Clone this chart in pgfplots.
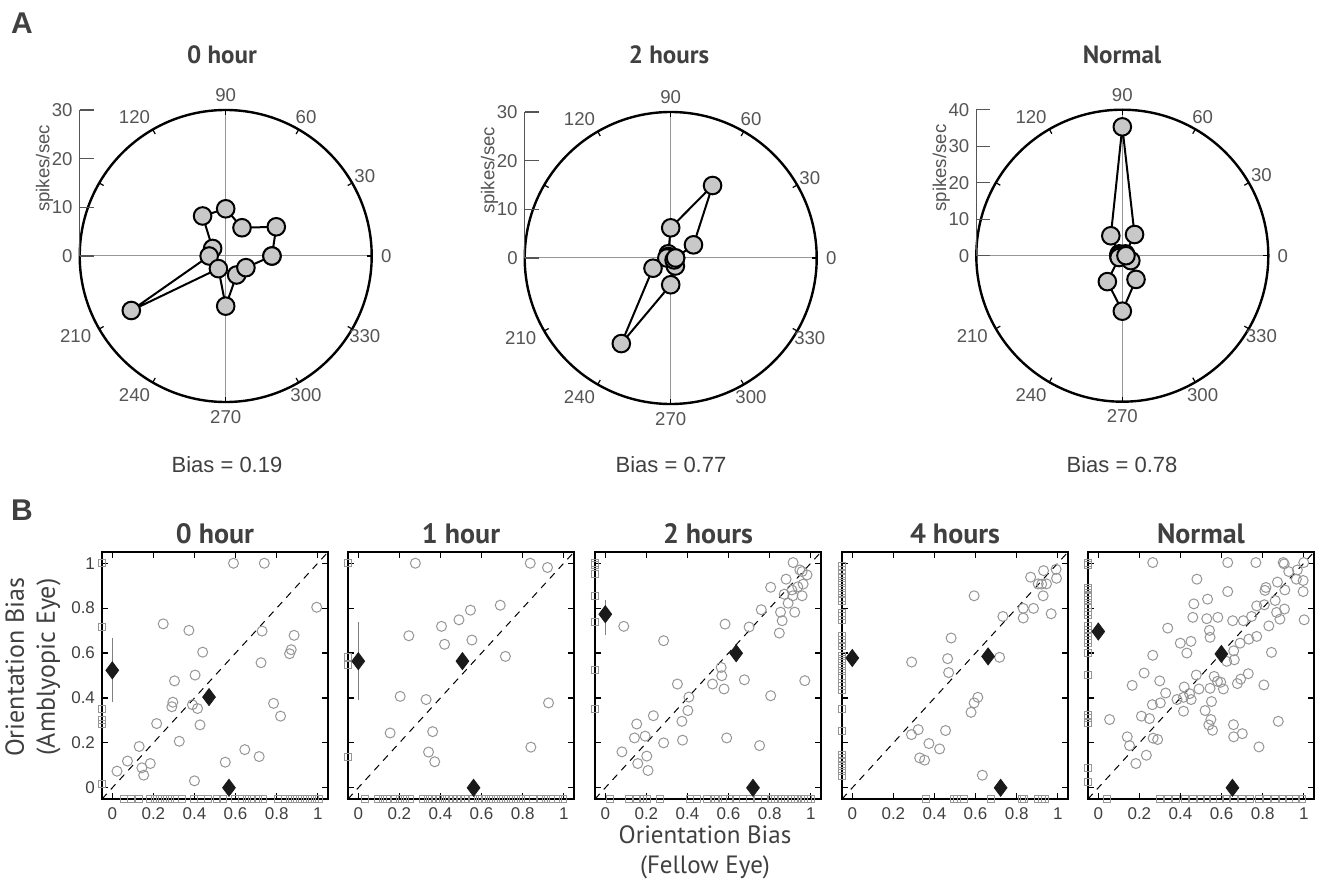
\documentclass[border=0pt]{standalone}
\usepackage{pgfplots}
\pgfplotsset{compat=1.18}
\usepackage{fontspec}
\setmainfont{Liberation Sans}
\newfontfamily\myriad{PT Sans}
\definecolor{textgray}{RGB}{64,64,64}
\definecolor{labgray}{RGB}{85,85,85}
\definecolor{ptgray}{RGB}{150,150,150}
\definecolor{fillgray}{RGB}{200,200,200}
\definecolor{crossgray}{RGB}{150,150,150}
\definecolor{diacol}{RGB}{26,26,26}
\newcommand{\tickfont}{\fontsize{8.5}{10}\selectfont}
\newcommand{\plabfont}{\fontsize{9.3}{11}\selectfont}
\pgfplotsset{
 polarpanel/.style={anchor=center, width=146pt, height=146pt, scale only axis, hide axis, clip=false},
 polarline/.style={black, line width=1pt, mark=*, mark size=4.4pt, mark options={fill=fillgray, draw=black, line width=1pt}},
 bpanel/.style={anchor=south west, width=113pt, height=123.5pt, scale only axis,
   xmin=-0.05, xmax=1.05, ymin=-0.05, ymax=1.05,
   xtick={0,0.2,0.4,0.6,0.8,1}, ytick={0,0.2,0.4,0.6,0.8,1},
   tick align=inside, major tick length=3pt,
   axis line style={line width=0.8pt, black},
   every tick/.style={line width=0.6pt, black},
   clip=false, /pgf/number format/assume math mode=true,
   tick label style={font=\tickfont, text=textgray},
   xticklabel style={yshift=-1pt},
   title style={font=\myriad\bfseries\fontsize{14}{16}\selectfont, text=textgray, yshift=-5.5pt}},
 circ/.style={only marks, mark=o, mark size=2.5pt, mark options={draw=ptgray, line width=0.5pt}},
 sq/.style={only marks, mark=square, mark size=1.75pt, mark options={draw=ptgray, line width=0.5pt}},
 dia/.style={only marks, mark=diamond*, mark size=4.25pt, mark options={fill=diacol, draw=diacol}},
 diag/.style={black, line width=0.5pt, dash pattern=on 3.5pt off 3pt},
 ebar/.style={gray, line width=0.6pt},
}
\tikzset{anglab/.style={font=\plabfont, text=labgray, inner sep=0pt},
 radlab/.style={font=\plabfont, text=labgray, inner sep=0pt},
 titleA/.style={font=\myriad\bfseries\fontsize{12.5}{14}\selectfont, text=textgray},
 biaslab/.style={font=\fontsize{11}{13}\selectfont, text=textgray}}
\newcommand{\polardeco}[1]{%
  \draw[crossgray, line width=0.5pt] (-#1,0) -- (#1,0);
  \draw[crossgray, line width=0.5pt] (0,-#1) -- (0,#1);
  \draw[black, line width=1.2pt] (0,0) circle[radius=#1];
  \pgfplotsinvokeforeach{0,30,60,90,120,150,180,210,240,270,300,330}{%
    \draw[black, line width=0.6pt] ({#1*cos(##1)},{#1*sin(##1)}) -- ({0.965*#1*cos(##1)},{0.965*#1*sin(##1)});}
  \pgfplotsinvokeforeach{0,30,60,90,270,300,330}{%
    \node[anglab] at ({1.1*#1*cos(##1)},{1.1*#1*sin(##1)}) {##1};}
  \pgfplotsinvokeforeach{120,210,240}{%
    \node[anglab] at ({1.1*#1*cos(##1)-0.075*#1},{1.1*#1*sin(##1)}) {##1};}
}
\newcommand{\radialaxis}[2]{%
  \draw[labgray, line width=0.6pt] (-#1,0) -- (-#1,#1);
  \pgfplotsinvokeforeach{#2}{%
    \draw[labgray, line width=0.6pt] (-#1,##1) -- ({-#1+0.096*#1},##1);
    \node[radlab, anchor=east] at ({-1.046*#1},##1) {##1};}
  \node[radlab, rotate=90] at ({-1.24*#1},{0.6*#1}) {spikes/sec};
}
\begin{document}
\begin{tikzpicture}[x=0.5pt,y=0.5pt]
\path[use as bounding box] (0,0) rectangle (1320,885);
\coordinate (PA1) at (225.7,629);
\coordinate (PA2) at (670.7,627);
\coordinate (PA3) at (1122.3,629.3);
\coordinate (PB1) at (102,86);
\coordinate (PB2) at (348,86);
\coordinate (PB3) at (595,86);
\coordinate (PB4) at (842,86);
\coordinate (PB5) at (1088,86);
% ---------------- Panel A ----------------
\node[font=\bfseries\fontsize{15}{17}\selectfont, text=textgray] at (22,862) {A};
\node[font=\bfseries\fontsize{15}{17}\selectfont, text=textgray] at (22,375) {B};

\begin{axis}[polarpanel, at={(PA1)}, xmin=-30, xmax=30, ymin=-30, ymax=30]
\polardeco{30}
\radialaxis{30}{0,10,20,30}
\addplot[polarline, data cs=polar] coordinates {(0,9.5) (30,12.0) (60,6.7) (90,9.7) (120,9.5) (150,3.1) (180,3.4) (210,22.4) (240,3.0) (270,10.3) (300,4.5) (330,4.8) (0,9.5)};
\end{axis}
\node[titleA] at (222,830) {0 hour};
\node[biaslab] at (227,420) {Bias = 0.19};

\begin{axis}[polarpanel, at={(PA2)}, xmin=-30, xmax=30, ymin=-30, ymax=30]
\polardeco{30}
\radialaxis{30}{0,10,20,30}
\addplot[polarline, data cs=polar] coordinates {(0,1.0) (30,5.4) (60,17.2) (90,6.2) (120,1.0) (150,0.6) (180,0.8) (210,4.2) (240,20.3) (270,5.5) (300,1.9) (330,0.8) (0,1.0)};
\end{axis}
\node[titleA] at (669,830) {2 hours};
\node[biaslab] at (671,420) {Bias = 0.77};

\begin{axis}[polarpanel, at={(PA3)}, xmin=-40, xmax=40, ymin=-40, ymax=40]
\polardeco{40}
\radialaxis{40}{0,10,20,30,40}
\addplot[polarline, data cs=polar] coordinates {(0,1.0) (30,1.0) (60,6.7) (90,35.3) (120,6.3) (150,1.0) (180,1.0) (210,1.0) (240,8.2) (270,15.2) (300,7.5) (330,2.7) (0,1.0)};
\end{axis}
\node[titleA] at (1122,830) {Normal};
\node[biaslab] at (1122,420) {Bias = 0.78};

% ---------------- Panel B ----------------
\begin{axis}[bpanel, at={(PB1)}, title={0 hour}]
\addplot[sq] coordinates {(-0.05,1.0) (-0.05,0.714) (-0.05,0.351) (-0.05,0.304) (-0.05,0.286) (-0.05,0.018)
 (0.056,-0.05) (0.093,-0.05) (0.131,-0.05) (0.186,-0.05) (0.21,-0.05) (0.234,-0.05) (0.259,-0.05) (0.283,-0.05) (0.307,-0.05) (0.341,-0.05) (0.396,-0.05) (0.433,-0.05) (0.465,-0.05) (0.509,-0.05) (0.541,-0.05) (0.598,-0.05) (0.630,-0.05) (0.654,-0.05) (0.679,-0.05) (0.711,-0.05) (0.735,-0.05) (0.808,-0.05) (0.84,-0.05) (0.864,-0.05) (0.889,-0.05) (0.913,-0.05) (0.937,-0.05) (0.961,-0.05) (0.985,-0.05) (1.005,-0.05)};
\addplot[circ] coordinates {(0.59,1.00) (0.74,1.00) (0.995,0.804) (0.248,0.730) (0.373,0.701) (0.729,0.698) (0.885,0.679) (0.871,0.615) (0.863,0.597) (0.440,0.604) (0.724,0.557) (0.403,0.502) (0.303,0.476) (0.295,0.381) (0.290,0.361) (0.390,0.370) (0.415,0.353) (0.427,0.280) (0.785,0.376) (0.819,0.319) (0.216,0.286) (0.326,0.207) (0.645,0.170) (0.715,0.139) (0.131,0.184) (0.144,0.089) (0.185,0.108) (0.153,0.056) (0.074,0.119) (0.023,0.074) (0.550,0.114) (0.400,0.031)};
\addplot[diag] coordinates {(-0.05,-0.05) (1.05,1.05)};
\addplot[ebar] coordinates {(0,0.381) (0,0.667)};
\addplot[dia] coordinates {(0,0.523) (0.471,0.404) (0.568,0)};
\end{axis}

\begin{axis}[bpanel, at={(PB2)}, title={1 hour}, yticklabels={}]
\addplot[sq] coordinates {(-0.05,1.0) (-0.05,0.581) (-0.05,0.545) (-0.05,0.138)
 (0.032,-0.05) (0.097,-0.05) (0.118,-0.05) (0.142,-0.05) (0.178,-0.05) (0.202,-0.05) (0.226,-0.05) (0.25,-0.05) (0.317,-0.05) (0.339,-0.05) (0.359,-0.05) (0.380,-0.05) (0.399,-0.05) (0.420,-0.05) (0.440,-0.05) (0.460,-0.05) (0.480,-0.05) (0.501,-0.05) (0.520,-0.05) (0.557,-0.05) (0.582,-0.05) (0.601,-0.05) (0.622,-0.05) (0.647,-0.05) (0.671,-0.05) (0.695,-0.05) (0.719,-0.05) (0.744,-0.05) (0.768,-0.05) (0.792,-0.05) (0.816,-0.05) (0.848,-0.05) (0.889,-0.05) (0.913,-0.05) (0.938,-0.05) (0.970,-0.05) (0.994,-0.05)};
\addplot[circ] coordinates {(0.278,1.00) (0.837,1.00) (0.921,0.981) (0.691,0.813) (0.546,0.791) (0.490,0.748) (0.405,0.719) (0.246,0.677) (0.420,0.639) (0.553,0.658) (0.716,0.585) (0.204,0.407) (0.330,0.393) (0.926,0.378) (0.155,0.244) (0.362,0.250) (0.342,0.159) (0.372,0.116) (0.840,0.181)};
\addplot[diag] coordinates {(-0.05,-0.05) (1.05,1.05)};
\addplot[ebar] coordinates {(0,0.390) (0,0.739)};
\addplot[dia] coordinates {(0,0.564) (0.507,0.564) (0.561,0)};
\end{axis}

\begin{axis}[bpanel, at={(PB3)}, title={2 hours}, yticklabels={}]
\addplot[sq] coordinates {(-0.05,1.0) (-0.05,0.993) (-0.05,0.951) (-0.05,0.852) (-0.05,0.738) (-0.05,0.523) (-0.05,0.353)
 (0.021,-0.05) (0.113,-0.05) (0.154,-0.05) (0.183,-0.05) (0.202,-0.05) (0.267,-0.05) (0.412,-0.05) (0.444,-0.05) (0.493,-0.05) (0.533,-0.05) (0.549,-0.05) (0.573,-0.05) (0.606,-0.05) (0.638,-0.05) (0.670,-0.05) (0.703,-0.05) (0.743,-0.05) (0.776,-0.05) (0.808,-0.05) (0.824,-0.05) (0.840,-0.05) (0.857,-0.05) (0.873,-0.05) (0.889,-0.05) (0.905,-0.05) (0.921,-0.05) (0.937,-0.05) (0.953,-0.05) (0.969,-0.05) (0.986,-0.05) (1.002,-0.05)};
\addplot[circ] coordinates {(0.914,1.003) (0.947,0.970) (0.958,0.963) (0.982,0.948) (0.880,0.929) (0.805,0.893) (0.963,0.907) (0.937,0.895) (0.908,0.881) (0.871,0.862) (0.913,0.855) (0.958,0.855) (0.890,0.822) (0.759,0.793) (0.853,0.782) (0.922,0.782) (0.861,0.744) (0.847,0.689) (0.583,0.729) (0.700,0.716) (0.090,0.719) (0.284,0.655) (0.564,0.536) (0.567,0.499) (0.522,0.462) (0.578,0.440) (0.677,0.481) (0.351,0.462) (0.407,0.404) (0.805,0.410) (0.971,0.477) (0.234,0.321) (0.402,0.344) (0.373,0.296) (0.153,0.284) (0.142,0.222) (0.194,0.230) (0.284,0.200) (0.376,0.212) (0.591,0.222) (0.751,0.188) (0.081,0.160) (0.202,0.141) (0.158,0.108) (0.208,0.077)};
\addplot[diag] coordinates {(-0.05,-0.05) (1.05,1.05)};
\addplot[ebar] coordinates {(0,0.679) (0,0.837)};
\addplot[dia] coordinates {(0,0.773) (0.637,0.599) (0.719,0)};
\end{axis}

\begin{axis}[bpanel, at={(PB4)}, title={4 hours}, yticklabels={}]
\addplot[sq] coordinates {(-0.05,0.988) (-0.05,0.970) (-0.05,0.953) (-0.05,0.933) (-0.05,0.911) (-0.05,0.889) (-0.05,0.867) (-0.05,0.844) (-0.05,0.830) (-0.05,0.778) (-0.05,0.763) (-0.05,0.748) (-0.05,0.674) (-0.05,0.659) (-0.05,0.644) (-0.05,0.630) (-0.05,0.585) (-0.05,0.573) (-0.05,0.563) (-0.05,0.541) (-0.05,0.519) (-0.05,0.496) (-0.05,0.467) (-0.05,0.452) (-0.05,0.437) (-0.05,0.353) (-0.05,0.255) (-0.05,0.148) (-0.05,0.133) (-0.05,0.119) (-0.05,0.096) (-0.05,0.074) (-0.05,0.052)
 (0.359,-0.05) (0.493,-0.05) (0.509,-0.05) (0.546,-0.05) (0.674,-0.05) (0.824,-0.05) (0.837,-0.05) (0.905,-0.05) (0.924,-0.05) (0.940,-0.05)};
\addplot[circ] coordinates {(0.931,0.967) (0.992,0.973) (0.868,0.938) (0.994,0.933) (0.905,0.908) (0.922,0.907) (0.945,0.908) (0.929,0.855) (0.593,0.855) (0.832,0.799) (0.882,0.799) (0.832,0.756) (0.968,0.775) (0.733,0.763) (0.481,0.667) (0.289,0.560) (0.464,0.575) (0.717,0.581) (0.469,0.513) (0.611,0.403) (0.593,0.378) (0.578,0.336) (0.321,0.259) (0.288,0.237) (0.454,0.255) (0.373,0.197) (0.425,0.173) (0.328,0.133) (0.352,0.123) (0.633,0.056)};
\addplot[diag] coordinates {(-0.05,-0.05) (1.05,1.05)};
\addplot[dia] coordinates {(0,0.578) (0.661,0.585) (0.722,0)};
\end{axis}

\begin{axis}[bpanel, at={(PB5)}, title={Normal}, yticklabels={}]
\addplot[sq] coordinates {(-0.05,1.0) (-0.05,0.993) (-0.05,0.889) (-0.05,0.881) (-0.05,0.867) (-0.05,0.852) (-0.05,0.837) (-0.05,0.815) (-0.05,0.8) (-0.05,0.785) (-0.05,0.770) (-0.05,0.719) (-0.05,0.704) (-0.05,0.689) (-0.05,0.674) (-0.05,0.659) (-0.05,0.644) (-0.05,0.6) (-0.05,0.504) (-0.05,0.326) (-0.05,0.311) (-0.05,0.289) (-0.05,0.089) (-0.05,0.027)
 (0.04,-0.05) (0.30,-0.05) (0.34,-0.05) (0.38,-0.05) (0.42,-0.05) (0.46,-0.05) (0.50,-0.05) (0.53,-0.05) (0.56,-0.05) (0.59,-0.05) (0.62,-0.05) (0.66,-0.05) (0.70,-0.05) (0.74,-0.05) (0.78,-0.05) (0.82,-0.05) (0.86,-0.05) (0.90,-0.05) (0.93,-0.05) (0.96,-0.05) (0.99,-0.05)};
\addplot[circ] coordinates {(0.265,1.003) (0.630,1.003) (0.767,1.003) (0.900,1.003) (0.905,0.997) (1.0,1.003) (0.927,0.963) (0.969,0.970) (0.964,0.929) (0.997,0.923) (0.997,0.874) (0.872,0.916) (0.908,0.881) (0.816,0.892) (0.811,0.879) (0.480,0.929) (0.630,0.874) (0.532,0.840) (0.465,0.819) (0.861,0.834) (0.808,0.815) (0.771,0.810) (0.868,0.781) (0.906,0.796) (0.460,0.759) (0.528,0.753) (0.582,0.759) (0.654,0.744) (0.706,0.744) (0.746,0.763) (0.884,0.751) (1.002,0.748) (0.830,0.721) (0.338,0.711) (0.541,0.701) (0.544,0.670) (0.399,0.644) (0.451,0.652) (0.431,0.600) (0.690,0.644) (0.733,0.662) (0.771,0.674) (0.265,0.590) (0.625,0.563) (0.662,0.570) (0.659,0.610) (0.843,0.603) (0.223,0.511) (0.165,0.456) (0.299,0.476) (0.477,0.502) (0.564,0.496) (0.580,0.474) (0.596,0.470) (0.609,0.440) (0.677,0.464) (0.693,0.484) (0.730,0.508) (0.806,0.458) (0.328,0.422) (0.418,0.449) (0.490,0.440) (0.544,0.443) (0.263,0.370) (0.302,0.378) (0.383,0.393) (0.415,0.403) (0.452,0.393) (0.444,0.419) (0.551,0.384) (0.415,0.341) (0.520,0.344) (0.055,0.304) (0.210,0.319) (0.249,0.308) (0.548,0.304) (0.538,0.280) (0.556,0.256) (0.658,0.281) (0.876,0.296) (0.141,0.227) (0.152,0.188) (0.267,0.221) (0.289,0.215) (0.659,0.227) (0.701,0.241) (0.782,0.182) (0.234,0.145) (0.183,0.108)};
\addplot[diag] coordinates {(-0.05,-0.05) (1.05,1.05)};
\addplot[dia] coordinates {(0,0.696) (0.599,0.596) (0.653,0)};
\end{axis}

\node[font=\myriad\fontsize{13}{15.5}\selectfont, text=textgray, rotate=90, align=center] at (33,218) {Orientation Bias\\(Amblyopic Eye)};
\node[font=\myriad\fontsize{12.5}{15}\selectfont, text=textgray, align=center] at (705,33) {Orientation Bias\\(Fellow Eye)};
\end{tikzpicture}
\end{document}
